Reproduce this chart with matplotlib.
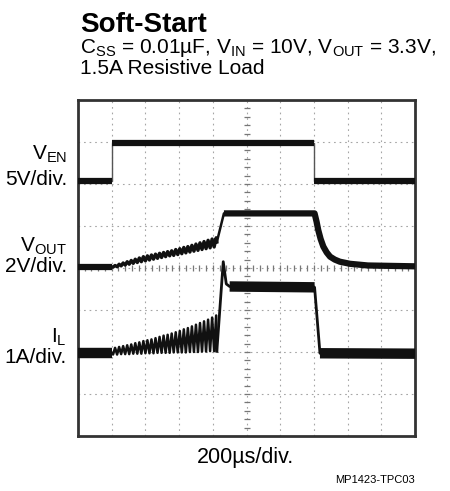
import numpy as np
import matplotlib
matplotlib.use('Agg')
import matplotlib.pyplot as plt

plt.rcParams['font.family'] = ['Liberation Sans', 'DejaVu Sans']
plt.rcParams['mathtext.fontset'] = 'custom'
plt.rcParams['mathtext.rm'] = 'Liberation Sans'

# scope traces in screen divisions (x: 10 div @ 200us/div, y: 8 div)
ven_t = [0.0, 1.0, 1.0, 7.0, 7.0, 10.0]
ven_v = [6.07, 6.07, 6.98, 6.98, 6.08, 6.08]

# switching ripple during soft-start (one entry per tooth)
tooth_t = np.array([1.10, 1.22, 1.34, 1.46, 1.58, 1.70, 1.82, 1.94, 2.06, 2.18,
                    2.30, 2.42, 2.54, 2.66, 2.78, 2.90, 3.02, 3.14, 3.26, 3.38,
                    3.50, 3.62, 3.74, 3.86, 3.98, 4.10])
vout_hi = np.array([4.06, 4.09, 4.12, 4.15, 4.18, 4.21, 4.24, 4.27, 4.29, 4.31,
                    4.33, 4.35, 4.37, 4.39, 4.41, 4.44, 4.46, 4.49, 4.51, 4.54,
                    4.57, 4.60, 4.63, 4.66, 4.69, 4.72])
vout_lo = np.array([4.02, 4.03, 4.05, 4.07, 4.09, 4.11, 4.13, 4.15, 4.17, 4.19,
                    4.21, 4.23, 4.25, 4.27, 4.29, 4.30, 4.32, 4.34, 4.36, 4.38,
                    4.40, 4.42, 4.44, 4.46, 4.48, 4.50])
il_hi = np.array([2.10, 2.12, 2.14, 2.16, 2.18, 2.21, 2.23, 2.26, 2.28, 2.30,
                  2.33, 2.36, 2.39, 2.41, 2.44, 2.47, 2.50, 2.54, 2.57, 2.61,
                  2.65, 2.69, 2.73, 2.77, 2.82, 2.87])
il_lo = np.array([1.94, 1.94, 1.95, 1.95, 1.95, 1.96, 1.96, 1.96, 1.97, 1.97,
                  1.97, 1.98, 1.98, 1.98, 1.98, 1.99, 1.99, 1.99, 1.99, 2.00,
                  2.00, 2.00, 2.01, 2.01, 2.02, 2.02])

vout_pre_t = [0.0, 1.02]
vout_pre_v = [4.02, 4.02]
vout_post_t = [4.12, 4.33, 7.02, 7.08, 7.13, 7.20, 7.28, 7.38, 7.48, 7.62,
               7.77, 8.07, 8.6, 10.0]
vout_post_v = [4.62, 5.30, 5.30, 5.10, 4.90, 4.69, 4.51, 4.37, 4.27, 4.20,
               4.15, 4.10, 4.06, 4.04]

il_pre_t = [0.0, 1.02]
il_pre_v = [1.97, 1.97]
il_post_t = [4.12, 4.31, 4.40, 4.50, 7.02, 7.18, 10.0]
il_post_v = [2.02, 4.15, 3.62, 3.56, 3.54, 1.97, 1.96]

fig = plt.figure(figsize=(4.5, 4.91), dpi=100)
ax = fig.add_axes([78 / 450, 55 / 491, 337 / 450, 336 / 491])
ax.set_xlim(0, 10)
ax.set_ylim(0, 8)
ax.set_xticks([])
ax.set_yticks([])
for s in ax.spines.values():
    s.set_linewidth(2)
    s.set_color('#333333')

# graticule
for gx in range(1, 10):
    ax.axvline(gx, color='#a5a5a5', lw=0.8, ls=(0, (1.5, 3.5)), zorder=1)
for gy in range(1, 8):
    ax.axhline(gy, color='#a5a5a5', lw=0.8, ls=(0, (1.5, 3.5)), zorder=1)
ax.plot(np.full(39, 5.0), np.arange(1, 40) * 0.2, ls='none', marker='_',
        ms=4, color='#777777', mew=0.9, zorder=1)
ax.plot(np.arange(1, 50) * 0.2, np.full(49, 4.0), ls='none', marker='|',
        ms=4, color='#777777', mew=0.9, zorder=1)

ink = '#111111'

# V_EN
ax.plot(ven_t, ven_v, color='#555555', lw=1.0, zorder=3)
ax.plot(ven_t[:2], ven_v[:2], color=ink, lw=4.5, solid_capstyle='butt', zorder=3)
ax.plot(ven_t[2:4], ven_v[2:4], color=ink, lw=4.5, solid_capstyle='butt', zorder=3)
ax.plot(ven_t[4:], ven_v[4:], color=ink, lw=4.5, solid_capstyle='butt', zorder=3)


def zigzag(lo, hi):
    t = np.column_stack([tooth_t - 0.06, tooth_t]).ravel()
    v = np.column_stack([lo, hi]).ravel()
    return t, v


# V_OUT
zt, zv = zigzag(vout_lo, vout_hi)
ax.plot(vout_pre_t, vout_pre_v, color=ink, lw=4.5, solid_capstyle='butt', zorder=3)
ax.plot(np.r_[vout_pre_t[-1], zt, vout_post_t[0]],
        np.r_[vout_pre_v[-1], zv, vout_post_v[0]], color=ink, lw=2.4, zorder=3)
ax.plot(vout_post_t, vout_post_v, color=ink, lw=1.8, zorder=3)
ax.plot(vout_post_t[1:], vout_post_v[1:], color=ink, lw=4.5,
        solid_capstyle='butt', solid_joinstyle='round', zorder=3)

# I_L
zt, zv = zigzag(il_lo, il_hi)
ax.plot(il_pre_t, il_pre_v, color=ink, lw=7.5, solid_capstyle='butt', zorder=3)
ax.plot(np.r_[il_pre_t[-1], zt, il_post_t[0]],
        np.r_[il_pre_v[-1], zv, il_post_v[0]], color=ink, lw=1.8, zorder=3)
ax.plot(il_post_t, il_post_v, color=ink, lw=2.0, zorder=3)
ax.plot(il_post_t[3:5], il_post_v[3:5], color=ink, lw=7.5,
        solid_capstyle='butt', zorder=3)
ax.plot(il_post_t[5:], il_post_v[5:], color=ink, lw=7.5,
        solid_capstyle='butt', zorder=3)


def fy(py):
    return 1 - py / 491


fig.text(80 / 450, fy(32), 'Soft-Start', fontsize=20, fontweight='bold',
         ha='left', va='baseline')
fig.text(80 / 450, fy(53),
         r'$\mathregular{C_{SS}}$ = 0.01µF, $\mathregular{V_{IN}}$ = 10V, '
         r'$\mathregular{V_{OUT}}$ = 3.3V,',
         fontsize=15, ha='left', va='baseline')
fig.text(80 / 450, fy(74), '1.5A Resistive Load', fontsize=15,
         ha='left', va='baseline')

side = [(r'$\mathregular{V_{EN}}$', '5V/div.', 160, 185),
        (r'$\mathregular{V_{OUT}}$', '2V/div.', 252, 272),
        (r'$\mathregular{I_{L}}$', '1A/div.', 343, 363)]
for name, scale, y1, y2 in side:
    fig.text(67 / 450, fy(y1), name, fontsize=15, ha='right', va='baseline')
    fig.text(67 / 450, fy(y2), scale, fontsize=15, ha='right', va='baseline')

fig.text(246 / 450, fy(463), '200µs/div.', fontsize=15.5, ha='center',
         va='baseline')
fig.text(415 / 450, fy(483), 'MP1423-TPC03', fontsize=8, ha='right',
         va='baseline')

fig.savefig('out.png', dpi=100)
